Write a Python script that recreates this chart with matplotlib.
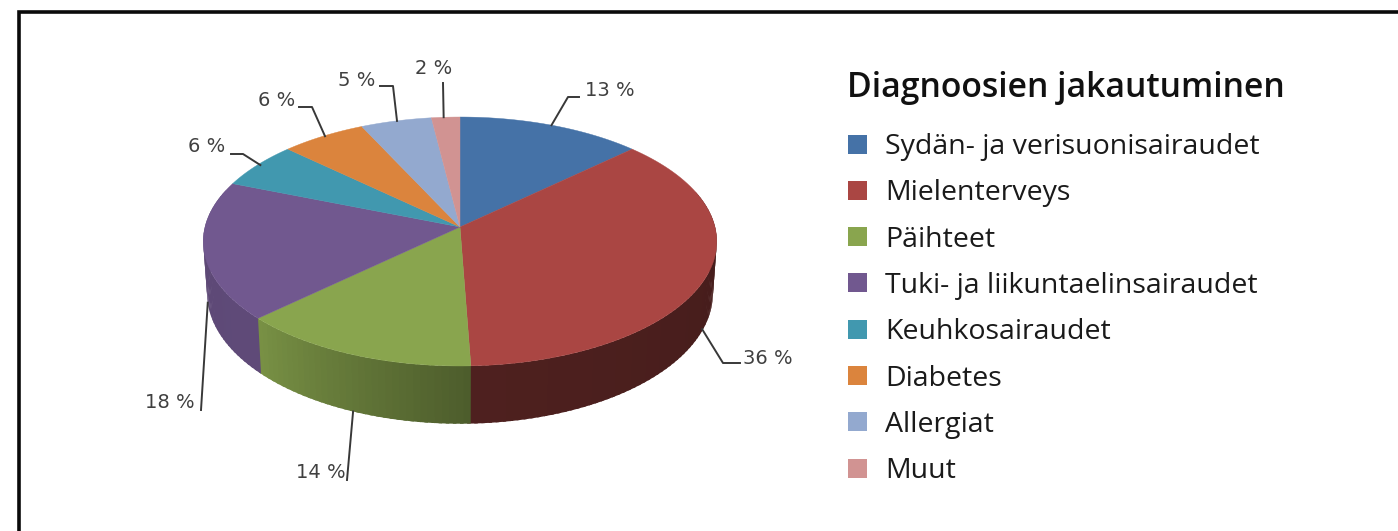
import numpy as np
import matplotlib
matplotlib.use("Agg")
import matplotlib.pyplot as plt
from matplotlib.patches import Polygon, Rectangle

title = "Diagnoosien jakautuminen"
categories = ["Sydän- ja verisuonisairaudet", "Mielenterveys", "Päihteet",
              "Tuki- ja liikuntaelinsairaudet", "Keuhkosairaudet", "Diabetes",
              "Allergiat", "Muut"]
values = [13, 36.4, 13.6, 18, 6, 6, 5, 2]
colors = ["#4572A7", "#AA4643", "#89A54E", "#71588F", "#4198AF", "#DB843D", "#93A9CF", "#D19392"]
# wall shading of each slice at its two ends (start angle, end angle)
wall_shade = [(.6, .6), (.38, .46), (.56, .88), (.84, .82), (.8, .8), (.8, .8), (.8, .8), (.8, .8)]
# leader elbow / end points and label anchor, in pixels
leader_points = [[(568, 97), (579, 97)], [(723, 363), (740, 363)], [(347, 480)], [(201, 410)],
                 [(243, 154), (231, 154)], [(312, 107), (299, 107)], [(393, 86), (380, 86)], [(443, 83)]]
leader_nudge = [0, -1, 0, 0, 3, 2, 1, -2]
label_pos = [(585, 91), (743, 358), (296, 473), (145, 403), (188, 147), (258, 101), (338, 81), (415, 69)]

CX, CY, X, R, Q, D = 460, 227, 255, 122.8, .1165, 51


def top(theta):
    c, s = np.sin(theta), -np.cos(theta)
    w = 1 - Q * s
    return CX + X * c / w, CY + R * s / w


def bottom(theta):
    c, s = np.sin(theta), -np.cos(theta)
    w = 1 - Q * s
    return CX + .985 * X * c / w, CY + (R * s + D) / w


fig = plt.figure(figsize=(13.98, 5.31), dpi=100)
ax = fig.add_axes([0, 0, 1, 1])
ax.set_xlim(0, 1398)
ax.set_ylim(531, 0)
ax.axis("off")
ax.add_patch(Rectangle((18.5, 11.5), 1500, 700, fc="white", ec="#0a0a0a", lw=2.6))

edges = np.cumsum([0] + values) / sum(values) * 2 * np.pi

# walls: each strip overlaps the next, so no seams show between them
for i, col in enumerate(colors):
    a0, a1 = edges[i], edges[i + 1]
    rgb = np.array(matplotlib.colors.to_rgb(col))
    n = max(2, int((a1 - a0) * 40))
    grid = np.linspace(a0, a1, n + 1)
    for j in range(n):
        t0, t1 = grid[j], grid[j + 1]
        if -np.cos((t0 + t1) / 2) < -.3:
            continue
        f = wall_shade[i][0] + (wall_shade[i][1] - wall_shade[i][0]) * (j + .5) / n
        arc = np.linspace(t0, t1 + (t1 - t0) * .5, 5)
        pts = [top(t) for t in arc] + [bottom(t) for t in arc[::-1]]
        ax.add_patch(Polygon(pts, fc=rgb * f, ec="none", zorder=2 + i * .01 + j * .0001))

# top faces
for i, col in enumerate(colors):
    th = np.linspace(edges[i], edges[i + 1], 80)
    pts = [(CX, CY)] + [top(t) for t in th]
    ax.add_patch(Polygon(pts, fc=col, ec=col, lw=.3, zorder=3))

# leaders and labels
for i, v in enumerate(values):
    mid = (edges[i] + edges[i + 1]) / 2
    start = bottom(mid) if i in (1, 2, 3) else top(mid)
    start = (start[0] + leader_nudge[i], start[1])
    xs, ys = zip(*([start] + leader_points[i]))
    ax.plot(xs, ys, color="#383838", lw=1.4, zorder=4, solid_joinstyle="round")
    ax.text(*label_pos[i], f"{round(v)} %", fontsize=14, family="DejaVu Sans",
            color="#404040", ha="left", va="center")

# legend
ax.text(847, 88, title, fontsize=24.3, family="Open Sans", fontweight="semibold",
        color="#111111", ha="left", va="center")
for i, (name, col) in enumerate(zip(categories, colors)):
    y = 144 + i * 46.3
    ax.add_patch(Rectangle((848, y - 9.5), 19, 19, fc=col, ec="none"))
    ax.text(885, y + 3, name, fontsize=20.5, family="Open Sans", color="#1a1a1a", ha="left", va="center")

fig.savefig("out.png", dpi=100)
